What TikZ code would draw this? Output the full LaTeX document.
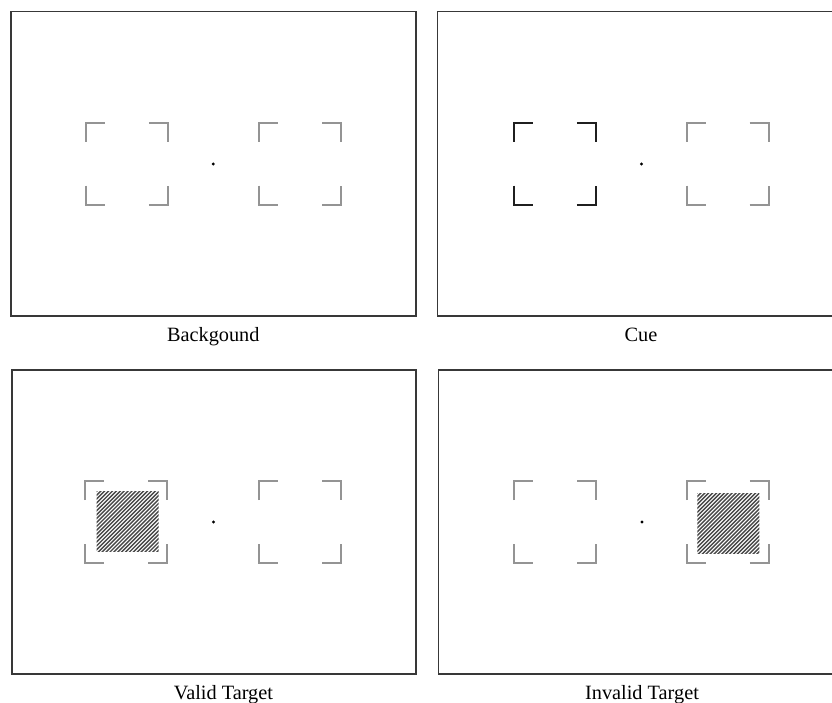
\documentclass[tikz,border=0pt]{standalone}
\usepackage{fontspec}
\setmainfont{Liberation Serif}
\begin{document}
\begin{tikzpicture}[x=1pt,y=-1pt,
  panel/.style={draw=black!78,line width=1.6pt},
  brk/.style={draw=black!42,line width=2pt},
  cuebrk/.style={draw=black!88,line width=2.2pt},
  hatch/.style={draw=black!72,line width=1.4pt},
  lbl/.style={anchor=base,font=\fontsize{20.3}{24}\selectfont}]
\clip (0,0) rectangle (832,703);
\fill[white] (0,0) rectangle (832,703);
\newcommand{\brackbox}[3]{%
  \begin{scope}[shift={(#1,#2)}]
    \draw[#3] (-41,-22) -- (-41,-41) -- (-22,-41);
    \draw[#3] (22,-41) -- (41,-41) -- (41,-22);
    \draw[#3] (-41,22) -- (-41,41) -- (-22,41);
    \draw[#3] (22,41) -- (41,41) -- (41,22);
  \end{scope}}
\newcommand{\hatchsq}[2]{%
  \begin{scope}[shift={(#1,#2)}]
    \clip (-31,-30) rectangle (31,30);
    \foreach \i in {0,...,36} \draw[hatch] (-105+\i*3.9,32) -- ++(72,-72);
  \end{scope}}
% panels
\draw[panel] (10.7,11.7) rectangle (415.7,315.7);
\draw[panel] (437.3,11.7) rectangle (842.3,315.7);
\draw[panel] (12,370) rectangle (416,674);
\draw[panel] (438.5,370) rectangle (843.5,674);
% panel 1: background
\brackbox{126.8}{163.7}{brk}
\brackbox{300}{163.7}{brk}
\fill (213.3,164) circle (1.6pt);
% panel 2: cue
\brackbox{554.8}{163.7}{cuebrk}
\brackbox{727.5}{163.7}{brk}
\fill (641.5,164) circle (1.6pt);
% panel 3: valid target
\hatchsq{127.5}{521.7}
\brackbox{126.2}{522}{brk}
\brackbox{300}{522}{brk}
\fill (213.5,522) circle (1.6pt);
% panel 4: invalid target
\brackbox{555}{522}{brk}
\hatchsq{728.3}{523}
\brackbox{727.8}{522}{brk}
\fill (642,522) circle (1.6pt);
% labels
\node[lbl] (l1) at (213.3,341) {Backgound};
\node[lbl] (l2) at (641,341) {Cue};
\node[lbl] (l3) at (223.4,699) {Valid Target};
\node[lbl] (l4) at (642,699) {Invalid Target};
\end{tikzpicture}
\end{document}
